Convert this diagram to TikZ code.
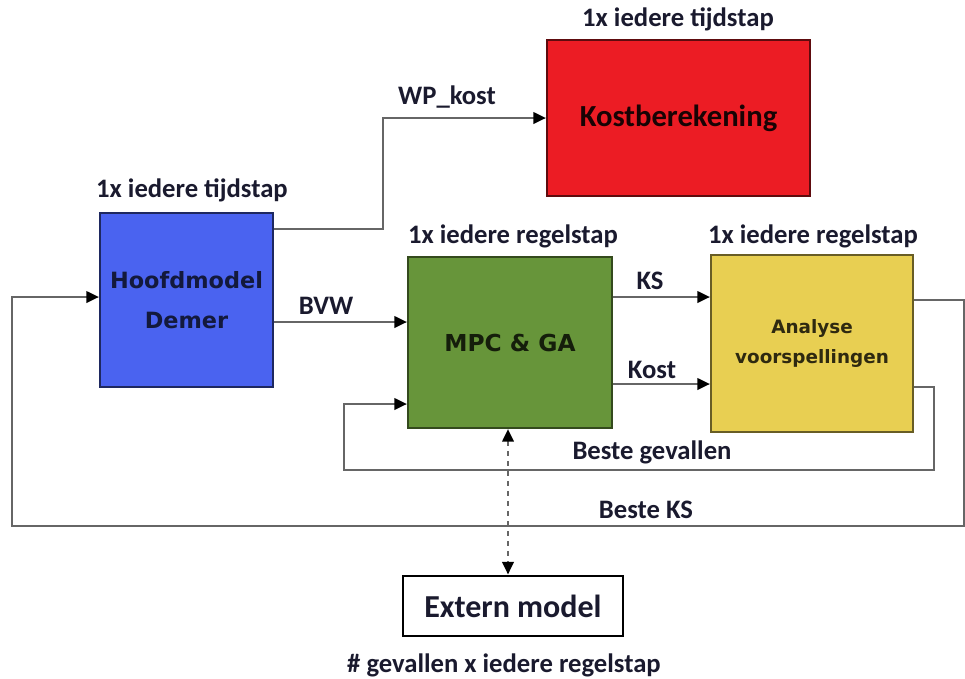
\documentclass[tikz,border=0pt]{standalone}
\usepackage{fontspec}
\setmainfont{Carlito}
\newfontfamily\verd{DejaVu Sans}
\usetikzlibrary{arrows.meta,calc}
\definecolor{bluef}{HTML}{4A63F0}
\definecolor{redf}{HTML}{EC1C24}
\definecolor{greenf}{HTML}{67953A}
\definecolor{yellowf}{HTML}{E8CF52}
\definecolor{lineg}{HTML}{666666}
\definecolor{labc}{HTML}{1A1A2E}
\tikzset{
  box/.style={draw, line width=1.5pt, inner sep=0pt, align=center},
  lab/.style={font=\bfseries\fontsize{20}{23}\selectfont, text=labc, inner sep=0pt},
  conn/.style={draw=lineg, line width=2pt, -{Triangle[length=9.5pt,width=8.5pt,color=black]}},
  dotc/.style={draw=lineg, line width=2pt, dash pattern=on 4pt off 3.5pt,
    {Triangle[length=9.5pt,width=8.5pt,color=black]}-{Triangle[length=9.5pt,width=8.5pt,color=black]}}
}
\begin{document}
\begin{tikzpicture}[x=0.75pt,y=-0.75pt]
\useasboundingbox (0,0) rectangle (965,679);
% boxes
\node[box, fill=bluef, draw=bluef!40!black, minimum width=129.75pt, minimum height=130.5pt,
  font=\verd\bfseries\fontsize{16.8}{30}\selectfont, text=bluef!25!black] (blue) at (186.5,300) {Hoofdmodel\\Demer};
\node[box, fill=redf, draw=redf!40!black, minimum width=197.25pt, minimum height=117pt,
  font=\bfseries\fontsize{23}{26}\selectfont, text=redf!10!black] (red) at (678.5,118) {Kostberekening};
\node[box, fill=greenf, draw=greenf!50!black, minimum width=153pt, minimum height=128.25pt,
  font=\verd\bfseries\fontsize{17.5}{20}\selectfont, text=greenf!20!black] (green) at (510,342.5) {MPC \& GA};
\node[box, fill=yellowf, draw=yellowf!45!black, minimum width=151.5pt, minimum height=132.75pt,
  font=\verd\bfseries\fontsize{13.8}{24}\selectfont, text=yellowf!20!black] (yellow) at (812,343.5) {Analyse\\[-1pt]voorspellingen};
\node[box, fill=white, draw=black, line width=2.2pt, minimum width=165pt, minimum height=45pt,
  font=\bfseries\fontsize{24}{28}\selectfont, text=labc] (ext) at (513,606) {Extern model};
% box labels
\node[lab] (lred) at (678,19) {1x iedere tijdstap};
\node[lab] (lblue) at (192,190) {1x iedere tijdstap};
\node[lab] (lgreen) at (513,236) {1x iedere regelstap};
\node[lab] (lyellow) at (813,236) {1x iedere regelstap};
\node[lab] (lext) at (504,665) {\# gevallen x iedere regelstap};
% helper coordinates
\coordinate (y229) at (0,229);
\coordinate (wpx) at (383,229);
\coordinate (y322) at (0,322);
\coordinate (y297) at (0,297);
\coordinate (y300) at (0,300);
\coordinate (y384) at (0,384);
\coordinate (y387) at (0,387);
\coordinate (y404) at (0,404);
\coordinate (bg1) at (934,387);
\coordinate (bg2) at (934,470);
\coordinate (bg3) at (344,470);
\coordinate (bg4) at (344,404);
\coordinate (bk1) at (964,300);
\coordinate (bk2) at (964,526);
\coordinate (bk3) at (12,526);
\coordinate (bk4) at (12,297);
\coordinate (x508) at (508,0);
% connectors
\draw[conn] (blue.east |- y229) -- (wpx) |- (red.west);
\draw[conn] (blue.east |- y322) -- (green.west |- y322);
\draw[conn] (green.east |- y297) -- (yellow.west |- y297);
\draw[conn] (green.east |- y384) -- (yellow.west |- y384);
\draw[conn] (yellow.east |- y387) -- (bg1) -- (bg2) -- (bg3) -- (bg4) -- (green.west |- y404);
\draw[conn] (yellow.east |- y300) -- (bk1) -- (bk2) -- (bk3) -- (bk4) -- (blue.west |- y297);
\draw[dotc] (green.south -| x508) -- (ext.north -| x508);
% connector labels
\node[lab] (lwp) at (447,97) {WP\_kost};
\node[lab] (lbvw) at (326,306) {BVW};
\node[lab] (lks) at (650,281) {KS};
\node[lab] (lkost) at (652,370) {Kost};
\node[lab] (lbg) at (652,452) {Beste gevallen};
\node[lab] (lbks) at (646,510) {Beste KS};
\end{tikzpicture}
\end{document}
